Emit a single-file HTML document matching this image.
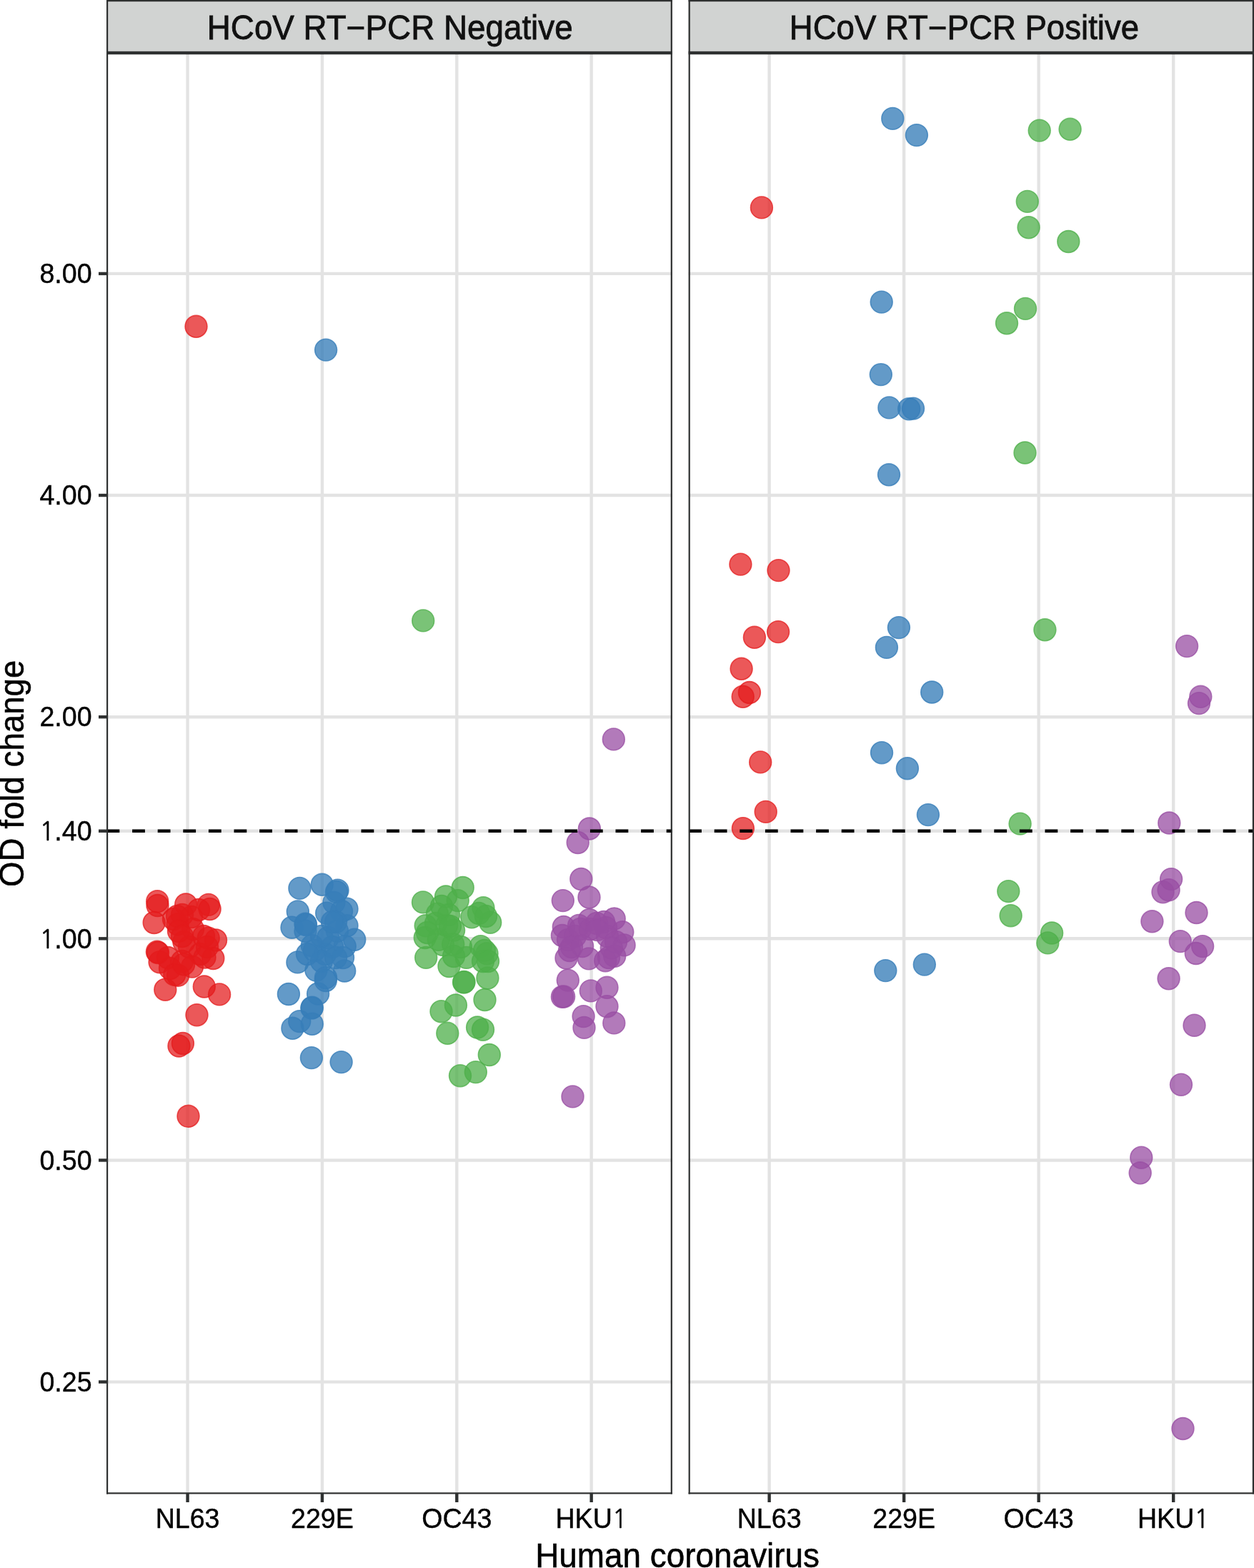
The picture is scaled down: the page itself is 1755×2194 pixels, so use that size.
<!DOCTYPE html><html><head><meta charset="utf-8"><title>HCoV RT-PCR OD fold change</title>
<style>html,body{margin:0;padding:0;background:#fff;overflow:hidden;}svg{display:block;}text{font-family:"Liberation Sans",Arial,Helvetica,sans-serif;}</style></head><body>
<svg width="1755" height="2194" viewBox="0 0 1755 2194">
<rect x="0" y="0" width="1755" height="2194" fill="#fff"/>
<g stroke="#E3E3E3" stroke-width="4.4" fill="none">
<line x1="149.00" y1="382.90" x2="940.90" y2="382.90"/>
<line x1="149.00" y1="693.04" x2="940.90" y2="693.04"/>
<line x1="149.00" y1="1003.18" x2="940.90" y2="1003.18"/>
<line x1="149.00" y1="1162.77" x2="940.90" y2="1162.77"/>
<line x1="149.00" y1="1313.32" x2="940.90" y2="1313.32"/>
<line x1="149.00" y1="1623.46" x2="940.90" y2="1623.46"/>
<line x1="149.00" y1="1933.60" x2="940.90" y2="1933.60"/>
<line x1="262.55" y1="74.00" x2="262.55" y2="2090.50"/>
<line x1="450.92" y1="74.00" x2="450.92" y2="2090.50"/>
<line x1="639.29" y1="74.00" x2="639.29" y2="2090.50"/>
<line x1="827.66" y1="74.00" x2="827.66" y2="2090.50"/>
</g>
<g stroke="#E3E3E3" stroke-width="4.4" fill="none">
<line x1="963.60" y1="382.90" x2="1755.00" y2="382.90"/>
<line x1="963.60" y1="693.04" x2="1755.00" y2="693.04"/>
<line x1="963.60" y1="1003.18" x2="1755.00" y2="1003.18"/>
<line x1="963.60" y1="1162.77" x2="1755.00" y2="1162.77"/>
<line x1="963.60" y1="1313.32" x2="1755.00" y2="1313.32"/>
<line x1="963.60" y1="1623.46" x2="1755.00" y2="1623.46"/>
<line x1="963.60" y1="1933.60" x2="1755.00" y2="1933.60"/>
<line x1="1076.60" y1="74.00" x2="1076.60" y2="2090.50"/>
<line x1="1265.13" y1="74.00" x2="1265.13" y2="2090.50"/>
<line x1="1453.66" y1="74.00" x2="1453.66" y2="2090.50"/>
<line x1="1642.19" y1="74.00" x2="1642.19" y2="2090.50"/>
</g>
<g fill="#E41A1C" fill-opacity="0.73" stroke="#E41A1C" stroke-opacity="0.73" stroke-width="1.6">
<circle cx="274.5" cy="456.8" r="15.4"/>
<circle cx="220.2" cy="1261.3" r="15.4"/>
<circle cx="220.5" cy="1267.0" r="15.4"/>
<circle cx="215.7" cy="1291.0" r="15.4"/>
<circle cx="260.2" cy="1265.5" r="15.4"/>
<circle cx="291.8" cy="1265.9" r="15.4"/>
<circle cx="293.6" cy="1272.0" r="15.4"/>
<circle cx="302.0" cy="1315.5" r="15.4"/>
<circle cx="298.3" cy="1341.0" r="15.4"/>
<circle cx="219.9" cy="1331.8" r="15.4"/>
<circle cx="223.6" cy="1346.2" r="15.4"/>
<circle cx="231.3" cy="1384.7" r="15.4"/>
<circle cx="285.8" cy="1380.5" r="15.4"/>
<circle cx="307.1" cy="1391.4" r="15.4"/>
<circle cx="275.5" cy="1420.2" r="15.4"/>
<circle cx="249.1" cy="1364.7" r="15.4"/>
<circle cx="269.0" cy="1352.6" r="15.4"/>
<circle cx="248.6" cy="1293.3" r="15.4"/>
<circle cx="255.0" cy="1280.0" r="15.4"/>
<circle cx="270.0" cy="1300.0" r="15.4"/>
<circle cx="285.0" cy="1310.0" r="15.4"/>
<circle cx="265.0" cy="1325.0" r="15.4"/>
<circle cx="280.0" cy="1335.0" r="15.4"/>
<circle cx="235.0" cy="1340.0" r="15.4"/>
<circle cx="255.0" cy="1345.0" r="15.4"/>
<circle cx="290.0" cy="1325.0" r="15.4"/>
<circle cx="238.0" cy="1355.0" r="15.4"/>
<circle cx="257.4" cy="1318.0" r="15.4"/>
<circle cx="244.3" cy="1363.7" r="15.4"/>
<circle cx="257.1" cy="1349.4" r="15.4"/>
<circle cx="286.5" cy="1339.6" r="15.4"/>
<circle cx="291.7" cy="1312.6" r="15.4"/>
<circle cx="243.0" cy="1286.0" r="15.4"/>
<circle cx="268.0" cy="1283.0" r="15.4"/>
<circle cx="278.0" cy="1273.0" r="15.4"/>
<circle cx="248.0" cy="1282.0" r="15.4"/>
<circle cx="221.0" cy="1333.0" r="15.4"/>
<circle cx="250.0" cy="1303.0" r="15.4"/>
<circle cx="255.0" cy="1310.0" r="15.4"/>
<circle cx="255.9" cy="1460.0" r="15.4"/>
<circle cx="250.5" cy="1463.5" r="15.4"/>
<circle cx="263.5" cy="1561.8" r="15.4"/>
<circle cx="1065.9" cy="290.4" r="15.4"/>
<circle cx="1036.4" cy="789.6" r="15.4"/>
<circle cx="1089.5" cy="798.1" r="15.4"/>
<circle cx="1055.9" cy="891.8" r="15.4"/>
<circle cx="1089.1" cy="884.1" r="15.4"/>
<circle cx="1037.6" cy="935.8" r="15.4"/>
<circle cx="1048.9" cy="969.0" r="15.4"/>
<circle cx="1039.7" cy="974.8" r="15.4"/>
<circle cx="1064.2" cy="1066.4" r="15.4"/>
<circle cx="1071.7" cy="1135.9" r="15.4"/>
<circle cx="1039.9" cy="1159.1" r="15.4"/>
</g>
<g fill="#377EB8" fill-opacity="0.78" stroke="#377EB8" stroke-opacity="0.78" stroke-width="1.6">
<circle cx="456.1" cy="489.6" r="15.4"/>
<circle cx="419.4" cy="1242.9" r="15.4"/>
<circle cx="450.7" cy="1237.8" r="15.4"/>
<circle cx="472.5" cy="1245.7" r="15.4"/>
<circle cx="416.8" cy="1275.4" r="15.4"/>
<circle cx="457.2" cy="1277.7" r="15.4"/>
<circle cx="485.5" cy="1271.7" r="15.4"/>
<circle cx="408.5" cy="1297.7" r="15.4"/>
<circle cx="427.5" cy="1292.6" r="15.4"/>
<circle cx="485.5" cy="1295.3" r="15.4"/>
<circle cx="496.2" cy="1314.8" r="15.4"/>
<circle cx="482.7" cy="1324.1" r="15.4"/>
<circle cx="416.4" cy="1346.4" r="15.4"/>
<circle cx="482.2" cy="1358.5" r="15.4"/>
<circle cx="442.4" cy="1357.6" r="15.4"/>
<circle cx="455.8" cy="1372.0" r="15.4"/>
<circle cx="403.9" cy="1391.0" r="15.4"/>
<circle cx="445.1" cy="1390.5" r="15.4"/>
<circle cx="436.3" cy="1410.5" r="15.4"/>
<circle cx="436.8" cy="1409.8" r="15.4"/>
<circle cx="436.8" cy="1323.2" r="15.4"/>
<circle cx="459.1" cy="1312.0" r="15.4"/>
<circle cx="427.5" cy="1302.8" r="15.4"/>
<circle cx="472.0" cy="1302.8" r="15.4"/>
<circle cx="467.4" cy="1262.9" r="15.4"/>
<circle cx="455.0" cy="1335.0" r="15.4"/>
<circle cx="471.0" cy="1248.0" r="15.4"/>
<circle cx="478.0" cy="1275.0" r="15.4"/>
<circle cx="470.0" cy="1290.0" r="15.4"/>
<circle cx="440.0" cy="1330.0" r="15.4"/>
<circle cx="465.0" cy="1325.0" r="15.4"/>
<circle cx="480.0" cy="1340.0" r="15.4"/>
<circle cx="450.0" cy="1345.0" r="15.4"/>
<circle cx="428.0" cy="1294.0" r="15.4"/>
<circle cx="456.0" cy="1368.0" r="15.4"/>
<circle cx="450.0" cy="1310.0" r="15.4"/>
<circle cx="470.0" cy="1340.0" r="15.4"/>
<circle cx="430.0" cy="1335.0" r="15.4"/>
<circle cx="465.0" cy="1290.0" r="15.4"/>
<circle cx="419.2" cy="1429.1" r="15.4"/>
<circle cx="409.4" cy="1438.8" r="15.4"/>
<circle cx="436.8" cy="1432.8" r="15.4"/>
<circle cx="435.9" cy="1480.1" r="15.4"/>
<circle cx="477.6" cy="1486.1" r="15.4"/>
<circle cx="1249.3" cy="165.9" r="15.4"/>
<circle cx="1282.9" cy="189.1" r="15.4"/>
<circle cx="1233.7" cy="422.6" r="15.4"/>
<circle cx="1232.8" cy="524.1" r="15.4"/>
<circle cx="1244.4" cy="570.4" r="15.4"/>
<circle cx="1272.2" cy="572.3" r="15.4"/>
<circle cx="1278.0" cy="571.6" r="15.4"/>
<circle cx="1244.0" cy="664.3" r="15.4"/>
<circle cx="1257.9" cy="878.1" r="15.4"/>
<circle cx="1240.9" cy="905.9" r="15.4"/>
<circle cx="1304.2" cy="968.5" r="15.4"/>
<circle cx="1234.0" cy="1053.2" r="15.4"/>
<circle cx="1269.9" cy="1075.2" r="15.4"/>
<circle cx="1298.9" cy="1140.1" r="15.4"/>
<circle cx="1239.3" cy="1358.1" r="15.4"/>
<circle cx="1293.8" cy="1349.6" r="15.4"/>
</g>
<g fill="#4DAF4A" fill-opacity="0.75" stroke="#4DAF4A" stroke-opacity="0.75" stroke-width="1.6">
<circle cx="592.2" cy="868.4" r="15.4"/>
<circle cx="647.7" cy="1242.0" r="15.4"/>
<circle cx="624.0" cy="1254.5" r="15.4"/>
<circle cx="592.0" cy="1262.4" r="15.4"/>
<circle cx="676.4" cy="1270.3" r="15.4"/>
<circle cx="686.2" cy="1290.7" r="15.4"/>
<circle cx="660.2" cy="1283.3" r="15.4"/>
<circle cx="640.7" cy="1260.1" r="15.4"/>
<circle cx="612.0" cy="1278.6" r="15.4"/>
<circle cx="595.7" cy="1295.3" r="15.4"/>
<circle cx="594.8" cy="1312.0" r="15.4"/>
<circle cx="596.2" cy="1339.9" r="15.4"/>
<circle cx="628.5" cy="1352.0" r="15.4"/>
<circle cx="649.1" cy="1374.5" r="15.4"/>
<circle cx="682.4" cy="1368.5" r="15.4"/>
<circle cx="678.5" cy="1399.0" r="15.4"/>
<circle cx="672.7" cy="1324.1" r="15.4"/>
<circle cx="681.5" cy="1334.3" r="15.4"/>
<circle cx="676.0" cy="1345.0" r="15.4"/>
<circle cx="635.1" cy="1301.6" r="15.4"/>
<circle cx="652.8" cy="1339.9" r="15.4"/>
<circle cx="613.8" cy="1314.8" r="15.4"/>
<circle cx="634.2" cy="1321.3" r="15.4"/>
<circle cx="625.0" cy="1295.0" r="15.4"/>
<circle cx="649.5" cy="1374.0" r="15.4"/>
<circle cx="635.0" cy="1338.0" r="15.4"/>
<circle cx="678.0" cy="1330.0" r="15.4"/>
<circle cx="683.0" cy="1345.0" r="15.4"/>
<circle cx="620.0" cy="1322.0" r="15.4"/>
<circle cx="645.0" cy="1325.0" r="15.4"/>
<circle cx="618.0" cy="1268.0" r="15.4"/>
<circle cx="628.0" cy="1280.0" r="15.4"/>
<circle cx="610.0" cy="1292.0" r="15.4"/>
<circle cx="630.0" cy="1296.0" r="15.4"/>
<circle cx="670.0" cy="1278.0" r="15.4"/>
<circle cx="680.0" cy="1282.0" r="15.4"/>
<circle cx="598.0" cy="1305.0" r="15.4"/>
<circle cx="637.9" cy="1406.5" r="15.4"/>
<circle cx="617.5" cy="1415.2" r="15.4"/>
<circle cx="626.3" cy="1445.8" r="15.4"/>
<circle cx="668.1" cy="1437.5" r="15.4"/>
<circle cx="676.0" cy="1440.7" r="15.4"/>
<circle cx="684.8" cy="1476.0" r="15.4"/>
<circle cx="665.8" cy="1500.1" r="15.4"/>
<circle cx="644.0" cy="1505.2" r="15.4"/>
<circle cx="1454.7" cy="182.6" r="15.4"/>
<circle cx="1497.6" cy="180.8" r="15.4"/>
<circle cx="1437.8" cy="281.9" r="15.4"/>
<circle cx="1439.6" cy="318.3" r="15.4"/>
<circle cx="1495.3" cy="338.0" r="15.4"/>
<circle cx="1435.0" cy="431.9" r="15.4"/>
<circle cx="1409.0" cy="452.3" r="15.4"/>
<circle cx="1434.5" cy="633.5" r="15.4"/>
<circle cx="1462.4" cy="881.3" r="15.4"/>
<circle cx="1427.6" cy="1152.6" r="15.4"/>
<circle cx="1411.3" cy="1247.1" r="15.4"/>
<circle cx="1414.6" cy="1281.2" r="15.4"/>
<circle cx="1472.1" cy="1305.5" r="15.4"/>
<circle cx="1466.3" cy="1319.4" r="15.4"/>
</g>
<g fill="#984EA3" fill-opacity="0.75" stroke="#984EA3" stroke-opacity="0.75" stroke-width="1.6">
<circle cx="858.8" cy="1034.4" r="15.4"/>
<circle cx="824.9" cy="1159.5" r="15.4"/>
<circle cx="808.7" cy="1179.0" r="15.4"/>
<circle cx="813.3" cy="1230.0" r="15.4"/>
<circle cx="824.5" cy="1255.5" r="15.4"/>
<circle cx="787.8" cy="1260.1" r="15.4"/>
<circle cx="859.7" cy="1285.5" r="15.4"/>
<circle cx="788.8" cy="1297.0" r="15.4"/>
<circle cx="786.9" cy="1309.0" r="15.4"/>
<circle cx="810.1" cy="1294.9" r="15.4"/>
<circle cx="824.9" cy="1287.0" r="15.4"/>
<circle cx="871.3" cy="1304.3" r="15.4"/>
<circle cx="873.6" cy="1322.4" r="15.4"/>
<circle cx="860.2" cy="1337.7" r="15.4"/>
<circle cx="847.2" cy="1344.2" r="15.4"/>
<circle cx="824.0" cy="1341.4" r="15.4"/>
<circle cx="792.5" cy="1340.5" r="15.4"/>
<circle cx="845.0" cy="1290.0" r="15.4"/>
<circle cx="805.0" cy="1310.0" r="15.4"/>
<circle cx="850.0" cy="1310.0" r="15.4"/>
<circle cx="795.0" cy="1315.0" r="15.4"/>
<circle cx="797.0" cy="1330.0" r="15.4"/>
<circle cx="812.0" cy="1300.0" r="15.4"/>
<circle cx="848.0" cy="1298.0" r="15.4"/>
<circle cx="862.0" cy="1318.0" r="15.4"/>
<circle cx="852.0" cy="1340.0" r="15.4"/>
<circle cx="826.0" cy="1300.0" r="15.4"/>
<circle cx="835.0" cy="1292.0" r="15.4"/>
<circle cx="800.0" cy="1325.0" r="15.4"/>
<circle cx="815.1" cy="1324.0" r="15.4"/>
<circle cx="855.8" cy="1326.3" r="15.4"/>
<circle cx="835.8" cy="1301.1" r="15.4"/>
<circle cx="794.8" cy="1371.6" r="15.4"/>
<circle cx="786.9" cy="1394.8" r="15.4"/>
<circle cx="789.1" cy="1394.5" r="15.4"/>
<circle cx="826.8" cy="1386.4" r="15.4"/>
<circle cx="849.5" cy="1381.8" r="15.4"/>
<circle cx="849.5" cy="1408.2" r="15.4"/>
<circle cx="816.6" cy="1422.1" r="15.4"/>
<circle cx="817.5" cy="1437.9" r="15.4"/>
<circle cx="859.3" cy="1431.4" r="15.4"/>
<circle cx="801.5" cy="1534.4" r="15.4"/>
<circle cx="1661.1" cy="904.1" r="15.4"/>
<circle cx="1680.3" cy="974.8" r="15.4"/>
<circle cx="1678.0" cy="984.1" r="15.4"/>
<circle cx="1636.3" cy="1151.5" r="15.4"/>
<circle cx="1639.1" cy="1230.1" r="15.4"/>
<circle cx="1627.5" cy="1248.2" r="15.4"/>
<circle cx="1635.6" cy="1245.2" r="15.4"/>
<circle cx="1674.5" cy="1277.0" r="15.4"/>
<circle cx="1612.4" cy="1289.3" r="15.4"/>
<circle cx="1651.8" cy="1317.1" r="15.4"/>
<circle cx="1683.1" cy="1324.1" r="15.4"/>
<circle cx="1673.8" cy="1334.0" r="15.4"/>
<circle cx="1635.6" cy="1369.3" r="15.4"/>
<circle cx="1671.5" cy="1434.7" r="15.4"/>
<circle cx="1653.0" cy="1517.7" r="15.4"/>
<circle cx="1597.3" cy="1619.7" r="15.4"/>
<circle cx="1595.7" cy="1641.3" r="15.4"/>
<circle cx="1655.5" cy="1999.0" r="15.4"/>
</g>
<line x1="149.50" y1="1162.77" x2="940.90" y2="1162.77" stroke="#000" stroke-width="4.4" stroke-dasharray="17.8 17.8"/>
<line x1="964.10" y1="1162.77" x2="1755.00" y2="1162.77" stroke="#000" stroke-width="4.4" stroke-dasharray="17.8 17.8"/>
<rect x="149.00" y="74.00" width="2.20" height="2016.50" fill="#2E3030"/>
<rect x="938.70" y="74.00" width="2.20" height="2016.50" fill="#2E3030"/>
<rect x="149.00" y="74.00" width="791.90" height="2.20" fill="#2E3030"/>
<rect x="149.00" y="2088.30" width="791.90" height="2.20" fill="#2E3030"/>
<rect x="149.00" y="0.00" width="791.90" height="74.00" fill="#D1D3D2"/>
<rect x="149.00" y="0.00" width="2.20" height="74.00" fill="#2E3030"/>
<rect x="938.70" y="0.00" width="2.20" height="74.00" fill="#2E3030"/>
<rect x="149.00" y="0.00" width="791.90" height="2.20" fill="#2E3030"/>
<rect x="149.00" y="71.80" width="791.90" height="2.20" fill="#2E3030"/>
<text transform="translate(545.70,54.90) scale(1,1.041)" font-size="45.8" fill="#111" stroke="#111" stroke-width="0.8" text-anchor="middle">HCoV RT−PCR Negative</text>
<rect x="963.60" y="74.00" width="2.20" height="2016.50" fill="#2E3030"/>
<rect x="1752.80" y="74.00" width="2.20" height="2016.50" fill="#2E3030"/>
<rect x="963.60" y="74.00" width="791.40" height="2.20" fill="#2E3030"/>
<rect x="963.60" y="2088.30" width="791.40" height="2.20" fill="#2E3030"/>
<rect x="963.60" y="0.00" width="791.40" height="74.00" fill="#D1D3D2"/>
<rect x="963.60" y="0.00" width="2.20" height="74.00" fill="#2E3030"/>
<rect x="1752.80" y="0.00" width="2.20" height="74.00" fill="#2E3030"/>
<rect x="963.60" y="0.00" width="791.40" height="2.20" fill="#2E3030"/>
<rect x="963.60" y="71.80" width="791.40" height="2.20" fill="#2E3030"/>
<text transform="translate(1349.40,54.90) scale(1,1.041)" font-size="45.6" fill="#111" stroke="#111" stroke-width="0.8" text-anchor="middle">HCoV RT−PCR Positive</text>
<rect x="138.00" y="380.70" width="11.50" height="4.40" fill="#2E3030"/>
<rect x="138.00" y="690.84" width="11.50" height="4.40" fill="#2E3030"/>
<rect x="138.00" y="1000.98" width="11.50" height="4.40" fill="#2E3030"/>
<rect x="138.00" y="1160.57" width="11.50" height="4.40" fill="#2E3030"/>
<rect x="138.00" y="1311.12" width="11.50" height="4.40" fill="#2E3030"/>
<rect x="138.00" y="1621.26" width="11.50" height="4.40" fill="#2E3030"/>
<rect x="138.00" y="1931.40" width="11.50" height="4.40" fill="#2E3030"/>
<rect x="260.35" y="2090.00" width="4.40" height="12.00" fill="#2E3030"/>
<rect x="448.72" y="2090.00" width="4.40" height="12.00" fill="#2E3030"/>
<rect x="637.09" y="2090.00" width="4.40" height="12.00" fill="#2E3030"/>
<rect x="825.46" y="2090.00" width="4.40" height="12.00" fill="#2E3030"/>
<rect x="1074.40" y="2090.00" width="4.40" height="12.00" fill="#2E3030"/>
<rect x="1262.93" y="2090.00" width="4.40" height="12.00" fill="#2E3030"/>
<rect x="1451.46" y="2090.00" width="4.40" height="12.00" fill="#2E3030"/>
<rect x="1639.99" y="2090.00" width="4.40" height="12.00" fill="#2E3030"/>
<text transform="translate(128.60,396.20) scale(1,1.041)" font-size="37.6" fill="#000" stroke="#000" stroke-width="0.4" text-anchor="end">8.00</text>
<text transform="translate(128.60,706.34) scale(1,1.041)" font-size="37.6" fill="#000" stroke="#000" stroke-width="0.4" text-anchor="end">4.00</text>
<text transform="translate(128.60,1016.48) scale(1,1.041)" font-size="37.6" fill="#000" stroke="#000" stroke-width="0.4" text-anchor="end">2.00</text>
<text transform="translate(128.60,1176.07) scale(1,1.041)" font-size="37.6" fill="#000" stroke="#000" stroke-width="0.4" text-anchor="end"><tspan font-family="NanumGothic, 'Liberation Sans', sans-serif" font-size="34.82">1</tspan>.40</text>
<text transform="translate(128.60,1326.62) scale(1,1.041)" font-size="37.6" fill="#000" stroke="#000" stroke-width="0.4" text-anchor="end"><tspan font-family="NanumGothic, 'Liberation Sans', sans-serif" font-size="34.82">1</tspan>.00</text>
<text transform="translate(128.60,1636.76) scale(1,1.041)" font-size="37.6" fill="#000" stroke="#000" stroke-width="0.4" text-anchor="end">0.50</text>
<text transform="translate(128.60,1946.90) scale(1,1.041)" font-size="37.6" fill="#000" stroke="#000" stroke-width="0.4" text-anchor="end">0.25</text>
<text transform="translate(262.55,2138.10) scale(1,1.041)" font-size="37.6" fill="#000" stroke="#000" stroke-width="0.4" text-anchor="middle">NL63</text>
<text transform="translate(450.92,2138.10) scale(1,1.041)" font-size="37.6" fill="#000" stroke="#000" stroke-width="0.4" text-anchor="middle">229E</text>
<text transform="translate(639.29,2138.10) scale(1,1.041)" font-size="37.6" fill="#000" stroke="#000" stroke-width="0.4" text-anchor="middle">OC43</text>
<text transform="translate(827.66,2138.10) scale(1,1.041)" font-size="37.6" fill="#000" stroke="#000" stroke-width="0.4" text-anchor="middle">HKU<tspan font-family="NanumGothic, 'Liberation Sans', sans-serif" font-size="34.82">1</tspan></text>
<text transform="translate(1076.60,2138.10) scale(1,1.041)" font-size="37.6" fill="#000" stroke="#000" stroke-width="0.4" text-anchor="middle">NL63</text>
<text transform="translate(1265.13,2138.10) scale(1,1.041)" font-size="37.6" fill="#000" stroke="#000" stroke-width="0.4" text-anchor="middle">229E</text>
<text transform="translate(1453.66,2138.10) scale(1,1.041)" font-size="37.6" fill="#000" stroke="#000" stroke-width="0.4" text-anchor="middle">OC43</text>
<text transform="translate(1642.19,2138.10) scale(1,1.041)" font-size="37.6" fill="#000" stroke="#000" stroke-width="0.4" text-anchor="middle">HKU<tspan font-family="NanumGothic, 'Liberation Sans', sans-serif" font-size="34.82">1</tspan></text>
<text transform="translate(948.10,2193.00) scale(1,1.041)" font-size="45.9" fill="#000" stroke="#000" stroke-width="0.5" text-anchor="middle">Human coronavirus</text>
<text transform="translate(33.40,1082.30) rotate(-90) scale(1,1.041)" font-size="45.7" fill="#000" stroke="#000" stroke-width="0.5" text-anchor="middle">OD fold change</text>
</svg></body></html>
